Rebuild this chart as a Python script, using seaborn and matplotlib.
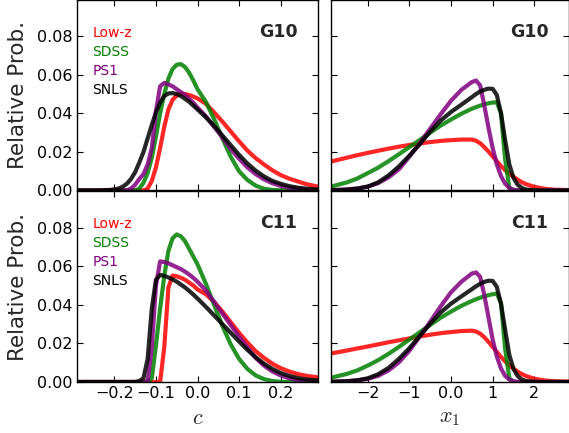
import matplotlib
matplotlib.use('Agg')
import matplotlib.pyplot as plt
from matplotlib.lines import Line2D
import seaborn as sns
import pandas as pd

# survey names and colours
surveys = ["Low-z", "SDSS", "PS1", "SNLS"]
colors = ["red", "green", "purple", "black"]

# colour c grid (left column)
c_grid = [-0.29, -0.24, -0.21, -0.19, -0.18, -0.17, -0.16, -0.15, -0.14, -0.13,
          -0.12, -0.11, -0.10, -0.09, -0.08, -0.07, -0.06, -0.05, -0.04, -0.03,
          -0.02, -0.01, 0.00, 0.02, 0.04, 0.06, 0.08, 0.10, 0.12, 0.14,
          0.16, 0.18, 0.20, 0.22, 0.24, 0.26, 0.29]

# G10, colour
g10_c_lowz = [0, 0, 0, 0, 0, 0, 0, 0, 0, 0,
              0.001, 0.005, 0.012, 0.022, 0.033, 0.042, 0.047, 0.0492, 0.0500, 0.0500,
              0.0495, 0.0487, 0.0477, 0.0450, 0.0405, 0.0357, 0.0306, 0.0255, 0.0207, 0.0168,
              0.0135, 0.0105, 0.0080, 0.0062, 0.0048, 0.0034, 0.0020]
g10_c_sdss = [0, 0, 0, 0, 0, 0, 0, 0, 0.001, 0.004,
              0.009, 0.017, 0.028, 0.040, 0.050, 0.058, 0.063, 0.0652, 0.0655, 0.064,
              0.061, 0.057, 0.0525, 0.046, 0.037, 0.027, 0.0175, 0.010, 0.0055, 0.0025,
              0.0009, 0.0003, 0.0001, 0, 0, 0, 0]
g10_c_ps1 = [0, 0, 0, 0, 0, 0, 0.001, 0.003, 0.006, 0.0085,
             0.0135, 0.022, 0.041, 0.054, 0.0558, 0.0550, 0.054, 0.0525, 0.051, 0.0495,
             0.0475, 0.0455, 0.043, 0.0385, 0.033, 0.0275, 0.0215, 0.0165, 0.012, 0.0085,
             0.0058, 0.0038, 0.0024, 0.0015, 0.0009, 0.0005, 0.0002]
g10_c_snls = [0, 0, 0.0003, 0.001, 0.002, 0.0035, 0.006, 0.0095, 0.0145, 0.020,
              0.027, 0.034, 0.0405, 0.0455, 0.049, 0.0503, 0.0505, 0.050, 0.049, 0.0475,
              0.046, 0.044, 0.042, 0.038, 0.0335, 0.0285, 0.0235, 0.0185, 0.014, 0.0103,
              0.0073, 0.0050, 0.0035, 0.0023, 0.0015, 0.0010, 0.0005]

# C11, colour
c11_c_lowz = [0, 0, 0, 0, 0, 0, 0, 0, 0, 0,
              0, 0, 0, 0, 0.018, 0.049, 0.0552, 0.0548, 0.054, 0.053,
              0.0515, 0.050, 0.048, 0.0455, 0.0415, 0.0365, 0.031, 0.0255, 0.0205, 0.016,
              0.0125, 0.0095, 0.0072, 0.0055, 0.0042, 0.0033, 0.0024]
c11_c_sdss = [0, 0, 0, 0, 0, 0, 0, 0, 0, 0,
              0, 0.002, 0.019, 0.038, 0.055, 0.068, 0.0745, 0.0765, 0.0755, 0.073,
              0.069, 0.065, 0.061, 0.051, 0.040, 0.029, 0.0195, 0.012, 0.0068, 0.0034,
              0.0015, 0.0005, 0.0001, 0, 0, 0, 0]
c11_c_ps1 = [0, 0, 0, 0, 0, 0, 0, 0, 0, 0,
             0.0005, 0.018, 0.050, 0.0625, 0.0622, 0.0615, 0.0605, 0.0595, 0.0585, 0.0572,
             0.0557, 0.054, 0.052, 0.0475, 0.0415, 0.0355, 0.0295, 0.0235, 0.0178, 0.0125,
             0.0085, 0.0055, 0.0034, 0.0020, 0.0011, 0.0006, 0.0002]
c11_c_snls = [0, 0, 0, 0, 0, 0, 0, 0, 0.0005, 0.002,
              0.012, 0.038, 0.053, 0.0555, 0.055, 0.0542, 0.0532, 0.052, 0.0505, 0.049,
              0.0472, 0.0453, 0.0433, 0.039, 0.0345, 0.030, 0.0255, 0.021, 0.0167, 0.0128,
              0.0095, 0.0068, 0.0047, 0.0032, 0.0021, 0.0014, 0.0008]

# stretch x1 grid (right column)
x1_grid = [-2.88, -2.5, -2.25, -2.0, -1.75, -1.5, -1.25, -1.0, -0.75, -0.5,
           -0.25, 0.0, 0.25, 0.5, 0.6, 0.7, 0.8, 0.9, 1.0, 1.1,
           1.2, 1.3, 1.4, 1.5, 1.6, 1.7, 1.8, 2.0, 2.25, 2.5, 2.88]

# G10, stretch
g10_x1_lowz = [0.0150, 0.0170, 0.0183, 0.0195, 0.0206, 0.0217, 0.0227, 0.0236, 0.0244, 0.0251,
               0.0257, 0.0261, 0.0264, 0.0264, 0.0258, 0.0245, 0.0225, 0.0202, 0.0177, 0.0152,
               0.0127, 0.0105, 0.0088, 0.0071, 0.0056, 0.0043, 0.0033, 0.0019, 0.0009, 0.0004, 0.0002]
g10_x1_sdss = [0.0020, 0.0042, 0.0062, 0.0090, 0.0118, 0.0152, 0.0188, 0.0225, 0.0262, 0.0300,
               0.0336, 0.0368, 0.0398, 0.0424, 0.0432, 0.0440, 0.0447, 0.0452, 0.0456, 0.0457,
               0.0400, 0.0160, 0.0015, 0, 0, 0, 0, 0, 0, 0, 0]
g10_x1_ps1 = [0.0002, 0.0006, 0.0010, 0.0020, 0.0038, 0.0068, 0.0110, 0.0175, 0.0245, 0.0320,
              0.0395, 0.0465, 0.0522, 0.0562, 0.0570, 0.0545, 0.0440, 0.0325, 0.0220, 0.0135,
              0.0075, 0.0035, 0.0013, 0.0004, 0.0001, 0, 0, 0, 0, 0, 0]
g10_x1_snls = [0.0001, 0.0004, 0.0010, 0.0020, 0.0042, 0.0078, 0.0125, 0.0180, 0.0240, 0.0305,
               0.0362, 0.0407, 0.0445, 0.0484, 0.0500, 0.0513, 0.0522, 0.0528, 0.0527, 0.0495,
               0.0400, 0.0260, 0.0135, 0.0065, 0.0030, 0.0013, 0.0005, 0.0001, 0, 0, 0]

# C11, stretch
c11_x1_lowz = [0.0148, 0.0163, 0.0174, 0.0184, 0.0195, 0.0206, 0.0216, 0.0226, 0.0236, 0.0245,
               0.0253, 0.0259, 0.0264, 0.0266, 0.0262, 0.0251, 0.0232, 0.0208, 0.0182, 0.0156,
               0.0130, 0.0107, 0.0087, 0.0069, 0.0054, 0.0041, 0.0031, 0.0017, 0.0008, 0.0004, 0.0002]
c11_x1_sdss = [0.0022, 0.0042, 0.0060, 0.0085, 0.0113, 0.0146, 0.0182, 0.0220, 0.0258, 0.0296,
               0.0333, 0.0365, 0.0395, 0.0420, 0.0429, 0.0437, 0.0444, 0.0450, 0.0455, 0.0458,
               0.0410, 0.0170, 0.0020, 0, 0, 0, 0, 0, 0, 0, 0]
c11_x1_ps1 = [0.0001, 0.0004, 0.0008, 0.0016, 0.0032, 0.0060, 0.0102, 0.0162, 0.0235, 0.0312,
              0.0392, 0.0465, 0.0520, 0.0562, 0.0568, 0.0545, 0.0450, 0.0335, 0.0220, 0.0132,
              0.0070, 0.0032, 0.0012, 0.0004, 0.0001, 0, 0, 0, 0, 0, 0]
c11_x1_snls = [0.0001, 0.0004, 0.0009, 0.0019, 0.0040, 0.0073, 0.0120, 0.0175, 0.0238, 0.0302,
               0.0360, 0.0406, 0.0444, 0.0481, 0.0496, 0.0509, 0.0519, 0.0525, 0.0524, 0.0493,
               0.0405, 0.0270, 0.0140, 0.0068, 0.0031, 0.0013, 0.0005, 0.0001, 0, 0, 0]


def long_table(grid, series):
    rows = []
    for name, vals in zip(surveys, series):
        for x, p in zip(grid, vals):
            rows.append({"x": x, "prob": p, "survey": name})
    return pd.DataFrame(rows)


sns.set_theme(style="ticks", rc={
    "xtick.direction": "in", "ytick.direction": "in",
    "xtick.top": True, "ytick.right": True,
    "xtick.major.size": 4, "ytick.major.size": 4,
    "xtick.major.width": 0.8, "ytick.major.width": 0.8,
    "xtick.color": "black", "ytick.color": "black",
    "axes.edgecolor": "black", "axes.linewidth": 1.0,
    "mathtext.fontset": "cm",
})
plt.rcParams['font.family'] = ['DejaVu Sans']

W, H = 569, 433
fig = plt.figure(figsize=(W / 100, H / 100), dpi=100)

# panel boxes in pixels: (left, top, width, height)
boxes = {
    (0, 0): (77, -0.5, 241, 191),
    (0, 1): (331, -0.5, 237.5, 191),
    (1, 0): (77, 191, 241, 191),
    (1, 1): (331, 191, 237.5, 191),
}

panels = {
    (0, 0): (c_grid, [g10_c_lowz, g10_c_sdss, g10_c_ps1, g10_c_snls], "G10"),
    (0, 1): (x1_grid, [g10_x1_lowz, g10_x1_sdss, g10_x1_ps1, g10_x1_snls], "G10"),
    (1, 0): (c_grid, [c11_c_lowz, c11_c_sdss, c11_c_ps1, c11_c_snls], "C11"),
    (1, 1): (x1_grid, [c11_x1_lowz, c11_x1_sdss, c11_x1_ps1, c11_x1_snls], "C11"),
}

for (r, col), (grid, series, model) in panels.items():
    l, t, w, h = boxes[(r, col)]
    ax = fig.add_axes([l / W, 1 - (t + h) / H, w / W, h / H])
    df = long_table(grid, series)
    sns.lineplot(data=df, x="x", y="prob", hue="survey", hue_order=surveys,
                 palette=colors, lw=3, alpha=0.85, estimator=None, sort=False,
                 legend=False, ax=ax)
    for line in ax.get_lines():
        line.set_solid_joinstyle("round")
        line.set_solid_capstyle("round")
    ax.set_ylim(0, 0.099)
    ax.set_yticks([0, 0.02, 0.04, 0.06, 0.08])
    if col == 0:
        ax.set_xlim(-0.29, 0.29)
        ax.set_xticks([-0.2, -0.1, 0.0, 0.1, 0.2])
        ax.set_yticklabels(["0.00", "0.02", "0.04", "0.06", "0.08"])
        ax.set_ylabel("Relative Prob.", fontsize=15.5)
        ax.yaxis.set_label_coords(-0.205, 0.5)
        handles = [Line2D([], [], lw=0) for _ in surveys]
        leg = ax.legend(handles, surveys, loc="upper left", bbox_to_anchor=(0.063, 0.862),
                        frameon=False, handlelength=0, handletextpad=0, borderpad=0,
                        borderaxespad=0, labelspacing=0.36, fontsize=10)
        for txt, c in zip(leg.get_texts(), colors):
            txt.set_color(c)
        ax.set_xlabel("$c$", fontsize=16, labelpad=5)
    else:
        ax.set_xlim(-2.88, 2.82)
        ax.set_xticks([-2, -1, 0, 1, 2])
        ax.tick_params(labelleft=False)
        ax.set_ylabel("")
        ax.set_xlabel("$x_1$", fontsize=16, labelpad=5)
    ax.xaxis.set_major_formatter(matplotlib.ticker.FuncFormatter(
        lambda v, _: ("%.1f" % v if abs(v) < 1 else "%d" % v).replace("-", "\u2212")))
    ax.tick_params(labelsize=11.5, pad=3)
    if r == 0:
        ax.tick_params(labelbottom=False)
        ax.set_xlabel("")
    ax.text(0.915, 0.83, model, transform=ax.transAxes, ha="right", va="center",
            fontsize=12.5, fontweight="bold")

fig.savefig("out.png", dpi=100)
